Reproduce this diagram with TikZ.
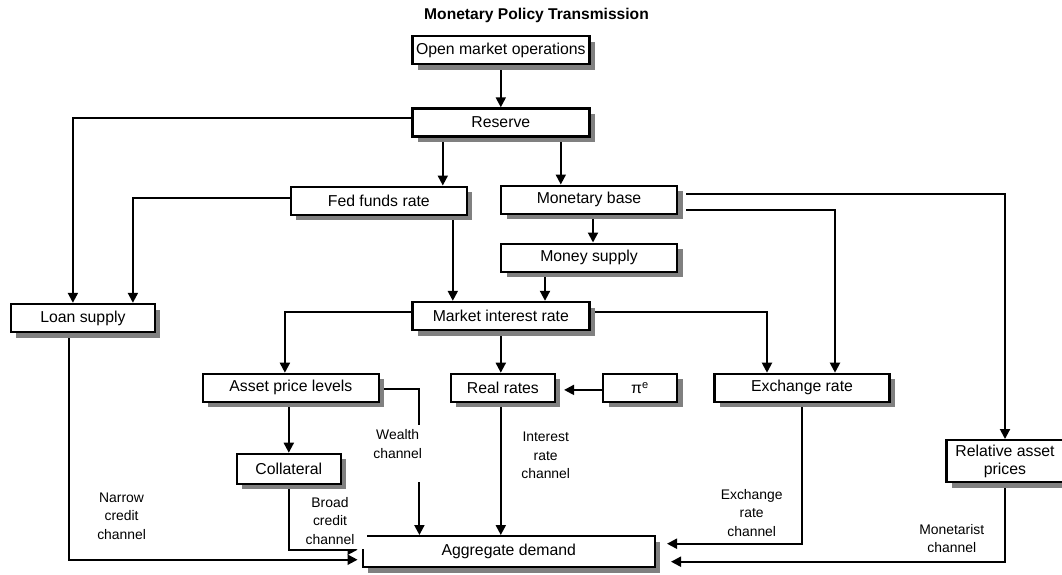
\documentclass[tikz,border=0pt]{standalone}
\usepackage{fontspec}
\setmainfont{Liberation Sans}
\usepackage{tikz}
\usetikzlibrary{arrows.meta, shadows}
\tikzstyle{block} = [rectangle, draw=black, fill=white, line width=2.4pt, minimum height=28pt, inner xsep=3pt, text centered, align=center, font=\fontsize{15.8}{18}\selectfont, drop shadow={shadow xshift=5.5pt, shadow yshift=-5.5pt, fill=gray, opacity=1}]
\tikzstyle{chlabel} = [align=center, inner sep=0pt, font=\fontsize{13.9}{18.3}\selectfont]
\tikzstyle{arrow} = [line width=2pt, -{Triangle[length=10pt, width=10pt]}]
\tikzstyle{link} = [line width=2pt]
\pgfdeclarelayer{background}
\pgfsetlayers{background,main}
\begin{document}
\begin{tikzpicture}[x=1pt, y=-1pt]
\useasboundingbox (0,0) rectangle (1062,574);

\node (title) [font=\fontsize{15.6}{18}\selectfont\bfseries] at (536.5,15) {Monetary Policy Transmission};

\node (omo) [block, minimum width=177pt] at (500.8,50) {Open market operations};
\node (reserve) [block, minimum width=177pt] at (500.8,122.5) {Reserve};
\node (fed) [block, minimum width=176pt] at (378.8,200.7) {Fed funds rate};
\node (base) [block, minimum width=176pt] at (589,199.7) {Monetary base};
\node (money) [block, minimum width=176pt] at (589,257.7) {Money supply};
\node (mir) [block, minimum width=177pt] at (500.8,316) {Market interest rate};
\node (loan) [block, minimum width=144pt] at (82.9,318) {Loan supply};
\node (asset) [block, minimum width=176pt] at (290.9,387.9) {Asset price levels};
\node (real) [block, minimum width=104pt] at (502.9,387.9) {Real rates};
\node (pie) [block, minimum width=74pt] at (640,387.9) {π\textsuperscript{e}};
\node (exch) [block, minimum width=175pt] at (802,387.9) {Exchange rate};
\node (rel) [block, minimum width=117pt, minimum height=42pt] at (1005,461.2) {Relative asset\\prices};
\node (coll) [block, minimum width=104pt, minimum height=30pt] at (288.8,468.9) {Collateral};
\node (agg) [block, minimum width=292pt, minimum height=31pt] at (508.8,551.7) {Aggregate demand};

% channel labels
\node (narrowlbl) [chlabel] at (121.6,516) {Narrow\\credit\\channel};
\node (wealthlbl) [chlabel] at (397.7,444) {Wealth\\channel};
\node (interestlbl) [chlabel] at (545.7,455.3) {Interest\\rate\\channel};
\node (exchlbl) [chlabel] at (751.7,513) {Exchange\\rate\\channel};
\node (monetlbl) [chlabel] at (951.8,538.2) {Monetarist\\channel};
\node (broadlbl) [chlabel, fill=white, inner xsep=12.5pt, inner ysep=4.5pt] at (330,521) {Broad\\credit\\channel};

\coordinate (wealthtop) at (419.4,425);
\coordinate (wealthbot) at (419.4,482);

\begin{pgfonlayer}{background}
\draw [arrow] (omo) -- (reserve);
\draw [arrow] ([xshift=-58pt]reserve.south) -- ([xshift=-58pt]reserve.south |- fed.north);
\draw [arrow] ([xshift=60pt]reserve.south) -- ([xshift=60pt]reserve.south |- base.north);
\draw [arrow] ([yshift=5pt]reserve.west) -| ([xshift=-10pt]loan.north);
\draw [arrow] ([yshift=3pt]fed.west) -| ([xshift=50pt]loan.north);
\draw [arrow] ([xshift=74pt]fed.south) -- ([xshift=74pt]fed.south |- mir.north);
\draw [arrow] ([xshift=4pt]base.south) -- ([xshift=4pt]money.north);
\draw [arrow] ([xshift=-44pt]money.south) -- ([xshift=-44pt]money.south |- mir.north);
\draw [arrow, shorten <=8pt] ([yshift=6pt]base.east) -| (rel.north);
\draw [arrow, shorten <=8pt] ([yshift=-10pt]base.east) -| ([xshift=33pt]exch.north);
\draw [arrow] ([yshift=4pt]mir.west) -| ([xshift=-6pt]asset.north);
\draw [arrow] (mir.south) -- (mir.south |- real.north);
\draw [arrow] ([yshift=4pt]mir.east) -| ([xshift=-35pt]exch.north);
\draw [arrow, shorten >=8pt] ([yshift=-2pt]pie.west) -- ([yshift=-2pt]real.east);
\draw [arrow] (coll.north |- asset.south) -- (coll.north);
\draw [link] ([yshift=-1.5pt]asset.east) -| (wealthtop);
\draw [arrow] (wealthbot) -- (wealthbot |- agg.north);
\draw [arrow, shorten >=4pt] (coll.south) |- ([yshift=2pt]agg.west);
\draw [arrow, shorten >=4pt] ([xshift=-14pt]loan.south) |- ([yshift=-8pt]agg.west);
\draw [arrow] (mir.south |- real.south) -- (mir.south |- agg.north);
\draw [arrow, shorten >=11pt] (exch.south) |- ([yshift=8pt]agg.east);
\draw [arrow, shorten >=15pt] (rel.south) |- ([yshift=-10pt]agg.east);
\end{pgfonlayer}

\end{tikzpicture}
\end{document}
